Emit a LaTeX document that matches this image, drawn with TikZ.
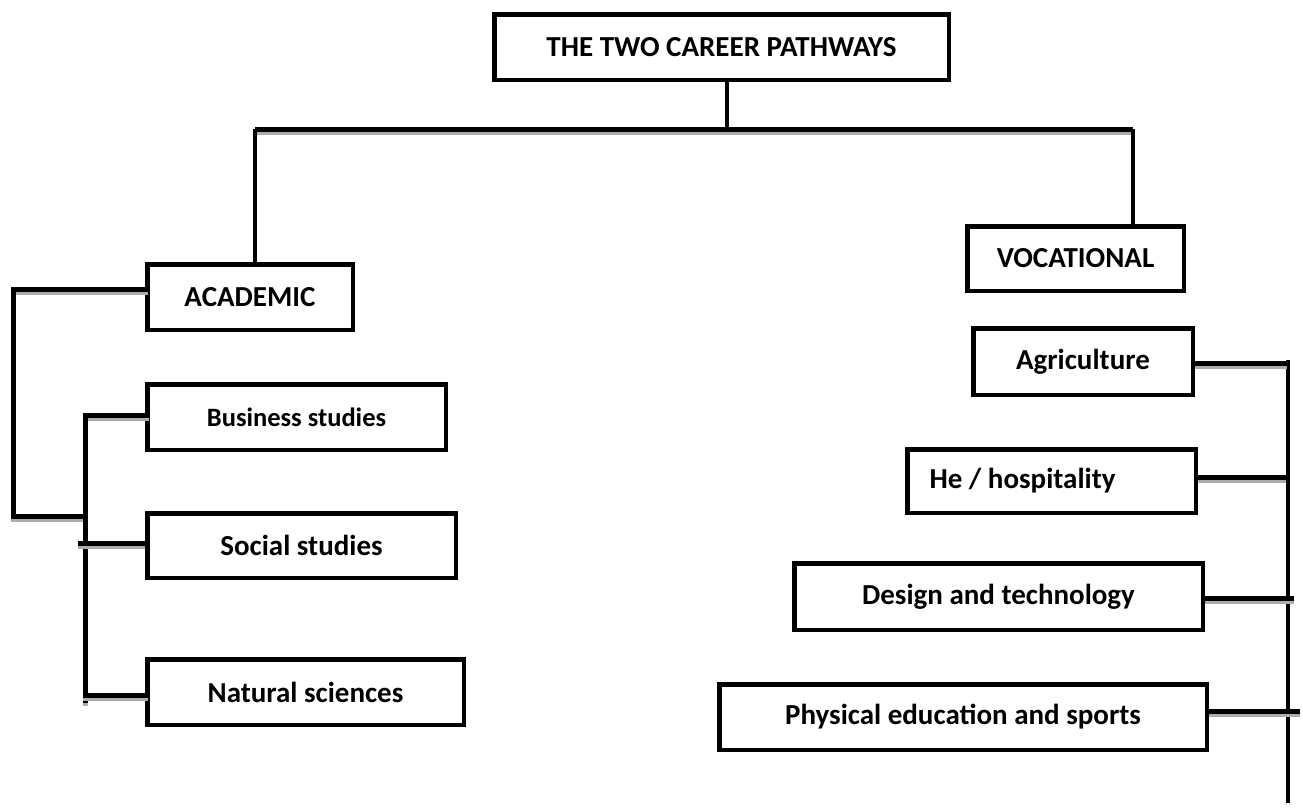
\documentclass[tikz,border=0pt]{standalone}
\usepackage{fontspec}
\setmainfont{Carlito}
\begin{document}
\begin{tikzpicture}[x=1pt,y=-1pt,
  box/.style={draw=black, line width=4.5pt, inner sep=0pt, fill=white,
    font=\bfseries\fontsize{29}{34}\selectfont, anchor=center},
  conn/.style={draw=black, line width=5pt,
    preaction={draw=gray!65, line width=5pt, transform canvas={yshift=-3pt}}},
  vline/.style={draw=black, line width=4.5pt}]
\useasboundingbox (0,0) rectangle (1303,807);

% connector coordinates
\coordinate (hl) at (255,129);
\coordinate (hr) at (1133,129);
\coordinate (tj) at (727,129);
\coordinate (a1) at (13,289);
\coordinate (a2) at (13,516);
\coordinate (a3) at (83,516);
\coordinate (b1) at (85,415);
\coordinate (b2) at (85,703);
\coordinate (s1) at (78,543);
\coordinate (n1) at (83,695);
\coordinate (r1) at (1288,360);
\coordinate (r2) at (1288,803);
\coordinate (ag) at (1287,363);
\coordinate (hh) at (1286,477);
\coordinate (dg) at (1294,598);
\coordinate (ph) at (1300,711);

% boxes
\node[box, minimum width=454.5pt, minimum height=65.5pt] (title) at (721.5,47) {THE TWO CAREER PATHWAYS};
\node[box, minimum width=205.5pt, minimum height=65.5pt] (academic) at (250,297) {ACADEMIC};
\node[box, minimum width=216.5pt, minimum height=64.5pt] (vocational) at (1075.5,258.5) {VOCATIONAL};
\node[box, minimum width=219.5pt, minimum height=66.5pt] (agri) at (1083,361.5) {Agriculture};
\node[box, minimum width=288.5pt, minimum height=63.5pt] (he) at (1051.5,481) {\makebox[244pt][l]{He / hospitality}};
\node[box, minimum width=408.5pt, minimum height=66.5pt] (design) at (998.5,596.5) {Design and technology};
\node[box, minimum width=487.5pt, minimum height=65.5pt] (physical) at (963,717) {Physical education and sports};
\node[box, minimum width=298.5pt, minimum height=65.5pt, font=\bfseries\fontsize{26.5}{31}\selectfont] (business) at (296.5,417) {Business studies};
\node[box, minimum width=308.5pt, minimum height=64.5pt] (social) at (301.5,545.5) {Social studies};
\node[box, minimum width=316.5pt, minimum height=65.5pt] (natural) at (305.5,692) {Natural sciences};

% tree connectors
\draw[vline] (tj |- title.south) -- (tj);
\draw[conn] (hl) -- (hr);
\draw[vline] (hl) -- (hl |- academic.north);
\draw[vline] (hr) -- (hr |- vocational.north);

\draw[conn] ([xshift=3pt]a1 -| academic.west) -- (a1) -- (a2) -- (a3);
\draw[conn] ([xshift=4pt]b1 -| business.west) -- (b1) -- (b2);
\draw[conn] (s1) -- (s1 -| social.west);
\draw[conn] (n1) -- ([xshift=3pt]n1 -| natural.west);

\draw[vline] (r1) -- (r2);
\draw[conn] (ag -| agri.east) -- (ag);
\draw[conn] (hh -| he.east) -- (hh);
\draw[conn] (dg -| design.east) -- (dg);
\draw[conn] (ph -| physical.east) -- (ph);
\end{tikzpicture}
\end{document}
